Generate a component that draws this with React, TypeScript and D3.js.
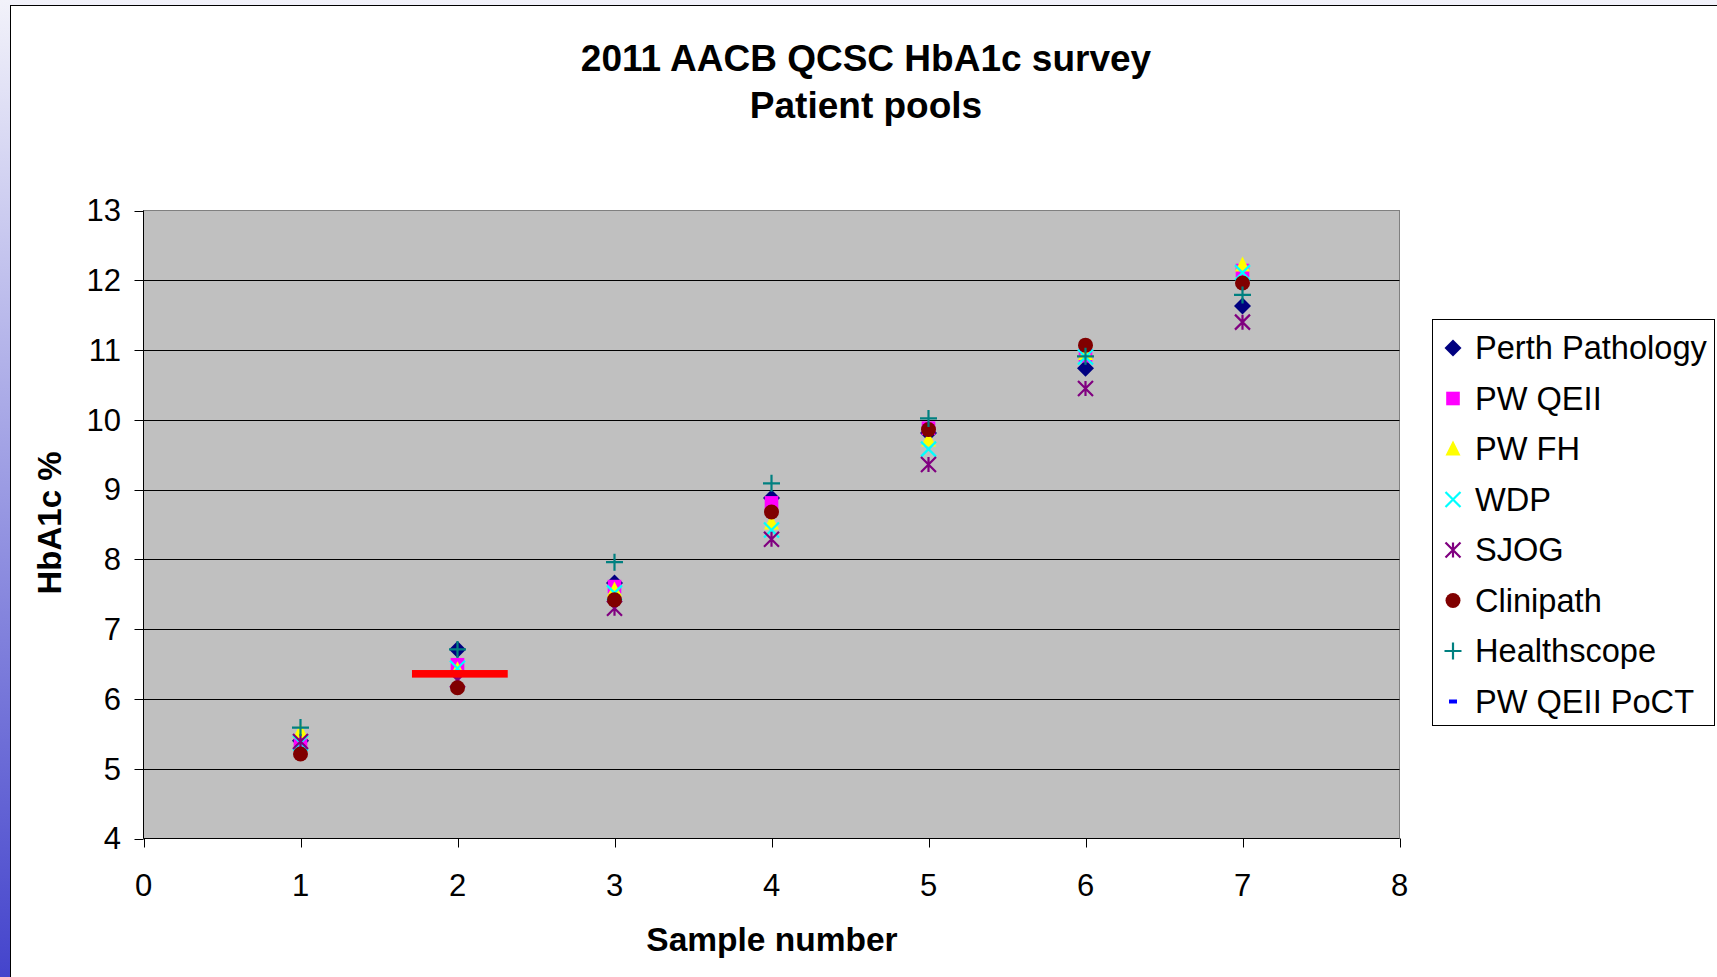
import React from "react";
import * as d3 from "d3";

const samples = [1, 2, 3, 4, 5, 6, 7];
const perthPathology = [5.4, 6.71, 7.66, 8.88, 9.81, 10.74, 11.63];
const pwQEII = [5.39, 6.49, 7.61, 8.81, 9.88, 10.92, 12.14];
const pwFH = [5.53, 6.42, 7.56, 8.52, 9.71, 10.95, 12.22];
const wdp = [5.37, 6.44, 7.52, 8.42, 9.58, 10.9, 12.11];
const sjog = [5.39, 6.27, 7.3, 8.29, 9.36, 10.45, 11.4];
const clinipath = [5.21, 6.16, 7.42, 8.68, 9.86, 11.07, 11.96];
const healthscope = [5.59, 6.71, 7.96, 9.09, 10.02, 10.91, 11.79];
const pwQEIIPoCT: (number | null)[] = [null, 6.36, null, null, null, null, null];

const seriesNames = ["Perth Pathology", "PW QEII", "PW FH", "WDP", "SJOG", "Clinipath", "Healthscope", "PW QEII PoCT"];
const seriesColors = ["#000080", "#FF00FF", "#FFFF00", "#00FFFF", "#800080", "#800000", "#008080", "#0000FF"];
const seriesShapes = ["diamond", "square", "triangle", "x", "asterisk", "circle", "plus", "dash"];
const seriesValues: (number | null)[][] = [perthPathology, pwQEII, pwFH, wdp, sjog, clinipath, healthscope, pwQEIIPoCT];

// highlighted target bar (x extent in sample units, y value)
const targetFrom = [1.71];
const targetTo = [2.32];
const targetValue = [6.36];

const xTicks = [0, 1, 2, 3, 4, 5, 6, 7, 8];
const yTicks = [4, 5, 6, 7, 8, 9, 10, 11, 12, 13];

const FONT = "'Liberation Sans', Arial, sans-serif";

const W = 1717;
const H = 977;
const plot = { left: 143.5, right: 1399.5, top: 210.5, bottom: 838.5 };

const x = d3.scaleLinear().domain([0, 8]).range([plot.left, plot.right]);
const y = d3.scaleLinear().domain([4, 13]).range([plot.bottom, plot.top]);

function Marker({ shape, color, cx, cy }: { shape: string; color: string; cx: number; cy: number }) {
  const r = 7.5;
  const t = `translate(${cx},${cy})`;
  switch (shape) {
    case "diamond":
      return <path transform={t} d={`M0,${-r - 1}L${r + 1},0L0,${r + 1}L${-r - 1},0Z`} fill={color} />;
    case "square":
      return <rect transform={t} x={-6.8} y={-6.8} width={13.6} height={13.6} fill={color} />;
    case "triangle":
      return <path transform={t} d={`M0,${-r - 1}L${r},${r - 1}L${-r},${r - 1}Z`} fill={color} />;
    case "circle":
      return <circle transform={t} r={r} fill={color} />;
    case "x":
      return (
        <path transform={t} d={`M${-r},${-r}L${r},${r}M${-r},${r}L${r},${-r}`} stroke={color} strokeWidth={2.2} fill="none" />
      );
    case "asterisk":
      return (
        <path
          transform={t}
          d={`M${-r},${-r}L${r},${r}M${-r},${r}L${r},${-r}M0,${-r}L0,${r}`}
          stroke={color}
          strokeWidth={2.2}
          fill="none"
        />
      );
    case "plus":
      return <path transform={t} d={`M${-r - 1},0L${r + 1},0M0,${-r - 1}L0,${r + 1}`} stroke={color} strokeWidth={2.2} fill="none" />;
    case "dash":
      return <rect transform={t} x={-4} y={-2} width={8} height={4} fill={color} />;
    default:
      return null;
  }
}

export default function App() {
  const gridYs = yTicks.filter((v) => v !== 4 && v !== 13);
  const legend = { x: 1432.5, y: 319.5, w: 282, h: 406, rowStart: 348, rowStep: 50.5 };
  return (
    <svg width={W} height={H} style={{ position: "absolute", left: 0, top: 0, display: "block" }} fontFamily={FONT}>
      <defs>
        <linearGradient id="slideBg" x1="0" y1="0" x2="0" y2="1">
          <stop offset="0" stopColor="#f2f2fa" />
          <stop offset="1" stopColor="#4444cc" />
        </linearGradient>
      </defs>
      <rect x={0} y={0} width={W} height={H} fill="url(#slideBg)" />
      <rect x={10.5} y={5.5} width={W} height={H} fill="#ffffff" stroke="#000000" strokeWidth={1} />

      {/* title */}
      <text x={866} y={71} textAnchor="middle" fontSize={37} fontWeight="bold" fill="#000">
        2011 AACB QCSC HbA1c survey
      </text>
      <text x={866} y={118} textAnchor="middle" fontSize={37} fontWeight="bold" fill="#000">
        Patient pools
      </text>

      {/* plot area */}
      <rect x={plot.left} y={plot.top} width={plot.right - plot.left} height={plot.bottom - plot.top} fill="#C0C0C0" stroke="#808080" strokeWidth={1} />
      {gridYs.map((v) => (
        <line key={v} x1={plot.left} x2={plot.right} y1={Math.round(y(v)) + 0.5} y2={Math.round(y(v)) + 0.5} stroke="#000" strokeWidth={1} />
      ))}
      {/* axes */}
      <line x1={plot.left} x2={plot.left} y1={plot.top} y2={plot.bottom} stroke="#000" />
      <line x1={plot.left} x2={plot.right} y1={plot.bottom} y2={plot.bottom} stroke="#000" />
      {yTicks.map((v) => (
        <g key={v}>
          <line x1={plot.left - 9} x2={plot.left} y1={Math.round(y(v)) + 0.5} y2={Math.round(y(v)) + 0.5} stroke="#000" />
          <text x={121} y={y(v)} dy="0.35em" textAnchor="end" fontSize={31} fill="#000">
            {v}
          </text>
        </g>
      ))}
      {xTicks.map((v) => (
        <g key={v}>
          <line x1={Math.round(x(v)) + 0.5} x2={Math.round(x(v)) + 0.5} y1={plot.bottom} y2={plot.bottom + 9} stroke="#000" />
          <text x={x(v)} y={885} dy="0.35em" textAnchor="middle" fontSize={31} fill="#000">
            {v}
          </text>
        </g>
      ))}

      {/* axis titles */}
      <text x={772} y={951} textAnchor="middle" fontSize={33.5} fontWeight="bold" fill="#000">
        Sample number
      </text>
      <text transform={`translate(61,523) rotate(-90)`} textAnchor="middle" fontSize={33} fontWeight="bold" fill="#000">
        HbA1c %
      </text>

      {/* data */}
      {seriesValues.map((vals, si) => (
        <g key={si}>
          {vals.map((v, i) =>
            v == null ? null : (
              <Marker key={i} shape={seriesShapes[si]} color={seriesColors[si]} cx={x(samples[i])} cy={y(v)} />
            )
          )}
        </g>
      ))}

      {/* target bar */}
      {targetValue.map((v, i) => (
        <rect
          key={i}
          x={x(targetFrom[i])}
          y={y(v) - 3.8}
          width={x(targetTo[i]) - x(targetFrom[i])}
          height={7.6}
          fill="#FF0000"
        />
      ))}

      {/* legend */}
      <rect x={legend.x} y={legend.y} width={legend.w} height={legend.h} fill="#fff" stroke="#000" strokeWidth={1} />
      {seriesNames.map((name, i) => {
        const cy = legend.rowStart + i * legend.rowStep;
        return (
          <g key={name}>
            <Marker shape={seriesShapes[i]} color={seriesColors[i]} cx={1453} cy={cy} />
            <text x={1475} y={cy} dy="0.35em" fontSize={32.6} fill="#000">
              {name}
            </text>
          </g>
        );
      })}
    </svg>
  );
}
